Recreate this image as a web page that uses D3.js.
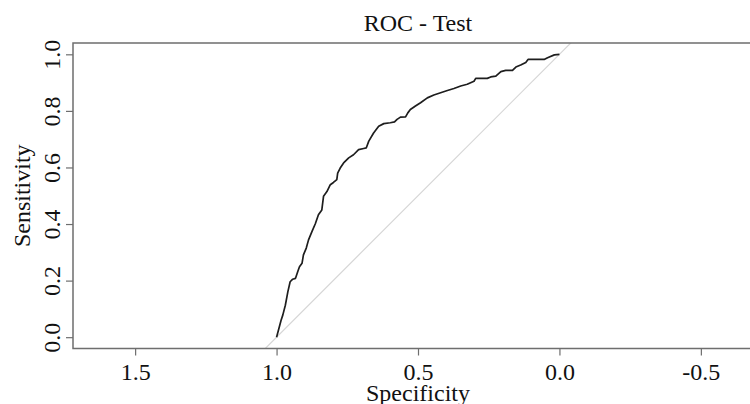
<!DOCTYPE html>
<html>
<head>
<meta charset="utf-8">
<script src="https://cdn.jsdelivr.net/npm/d3@7"></script>
<style>
  html, body { margin: 0; padding: 0; background: #fff; }
  svg { display: block; font-family: "Liberation Serif", "Times New Roman", serif; }
</style>
</head>
<body>
<svg id="chart" width="750" height="404"></svg>
<script>
// ROC curve points
const specificity = [1.000,0.984,0.978,0.969,0.960,0.952,0.943,0.933,0.925,0.919,0.910,0.905,0.895,0.887,0.875,0.863,0.852,0.840,0.834,0.822,0.810,0.799,0.787,0.784,0.775,0.763,0.745,0.728,0.710,0.692,0.683,0.674,0.657,0.639,0.621,0.598,0.583,0.574,0.562,0.544,0.536,0.527,0.509,0.491,0.467,0.444,0.420,0.396,0.373,0.349,0.326,0.302,0.296,0.255,0.243,0.225,0.207,0.190,0.166,0.154,0.137,0.119,0.111,0.054,0.042,0.018,0.000];
const sensitivity = [0.000,0.060,0.078,0.113,0.161,0.196,0.205,0.208,0.232,0.249,0.261,0.291,0.315,0.344,0.373,0.401,0.433,0.450,0.498,0.515,0.539,0.547,0.557,0.580,0.598,0.616,0.634,0.645,0.663,0.667,0.669,0.693,0.722,0.746,0.755,0.758,0.761,0.770,0.778,0.779,0.793,0.805,0.817,0.829,0.846,0.856,0.864,0.872,0.879,0.888,0.894,0.905,0.915,0.915,0.920,0.923,0.939,0.943,0.943,0.955,0.962,0.971,0.982,0.982,0.988,0.998,1.000];
const xTicks = [1.5, 1.0, 0.5, 0.0, -0.5];
const xTickLabels = ["1.5", "1.0", "0.5", "0.0", "-0.5"];
const yTicks = [0.0, 0.2, 0.4, 0.6, 0.8, 1.0];
const yTickLabels = ["0.0", "0.2", "0.4", "0.6", "0.8", "1.0"];
const titleText = "ROC - Test";
const xTitle = "Specificity";
const yTitle = "Sensitivity";

(function () {
const svg = d3.select("#chart");
const mLeft = 73, mRight = 763, mTop = 43, mBottom = 348.5;
const unit = (mBottom - mTop) / 1.08;
const cx = 418;

const x = d3.scaleLinear()
  .domain([0.5 + (cx - mLeft) / unit, 0.5 - (mRight - cx) / unit])
  .range([mLeft, mRight]);
const y = d3.scaleLinear().domain([-0.04, 1.04]).range([mBottom, mTop]);

const points = specificity.map((s, i) => [s, sensitivity[i]]);

svg.append("defs").append("clipPath").attr("id", "clip")
  .append("rect").attr("x", mLeft).attr("y", mTop).attr("width", mRight - mLeft).attr("height", mBottom - mTop);

const plot = svg.append("g").attr("clip-path", "url(#clip)");

// diagonal reference line (sens = 1 - spec)
const d0 = x.domain()[0], d1 = x.domain()[1];
plot.append("line")
  .attr("x1", x(d0)).attr("y1", y(1 - d0))
  .attr("x2", x(d1)).attr("y2", y(1 - d1))
  .attr("stroke", "#d6d6d6").attr("stroke-width", 1.2);

// ROC curve
plot.append("path")
  .datum(points)
  .attr("fill", "none")
  .attr("stroke", "#1e1e1e")
  .attr("stroke-width", 1.7)
  .attr("stroke-linejoin", "round")
  .attr("d", d3.line().x(d => x(d[0])).y(d => y(d[1])));

// frame (top, left, bottom)
const frameColor = "#6e6e6e";
svg.append("path")
  .attr("d", `M${mRight},${mTop}H${mLeft}V${mBottom}H${mRight}`)
  .attr("fill", "none").attr("stroke", frameColor).attr("stroke-width", 1.5);

// x axis
const xAxis = svg.append("g")
  .attr("transform", `translate(0,${mBottom})`)
  .call(d3.axisBottom(x).tickValues(xTicks).tickSize(7).tickPadding(7)
    .tickFormat((d, i) => xTickLabels[i]));
xAxis.select(".domain").remove();
xAxis.selectAll(".tick line").attr("stroke", frameColor).attr("stroke-width", 1.2);
xAxis.selectAll(".tick text")
  .attr("font-family", "Liberation Serif")
  .attr("font-size", 24).attr("fill", "#111");

// y axis
const yAxis = svg.append("g")
  .attr("transform", `translate(${mLeft},0)`)
  .call(d3.axisLeft(y).tickValues(yTicks).tickSize(7)
    .tickFormat((d, i) => yTickLabels[i]));
yAxis.select(".domain").remove();
yAxis.selectAll(".tick line").attr("stroke", frameColor).attr("stroke-width", 1.2);
yAxis.selectAll(".tick text")
  .attr("font-family", "Liberation Serif")
  .attr("font-size", 24).attr("fill", "#111")
  .attr("transform", "rotate(-90)")
  .attr("text-anchor", "middle")
  .attr("x", 0).attr("y", -13).attr("dy", 0);

// titles
svg.append("text")
  .attr("x", cx).attr("y", 30.5)
  .attr("text-anchor", "middle")
  .attr("font-size", 24).attr("fill", "#111")
  .text(titleText);

svg.append("text")
  .attr("x", cx).attr("y", 400.5)
  .attr("text-anchor", "middle")
  .attr("font-size", 24).attr("fill", "#111")
  .text(xTitle);

svg.append("text")
  .attr("transform", `translate(30,${(mTop + mBottom) / 2}) rotate(-90)`)
  .attr("text-anchor", "middle")
  .attr("font-size", 24).attr("fill", "#111")
  .text(yTitle);
})();
</script>
</body>
</html>
